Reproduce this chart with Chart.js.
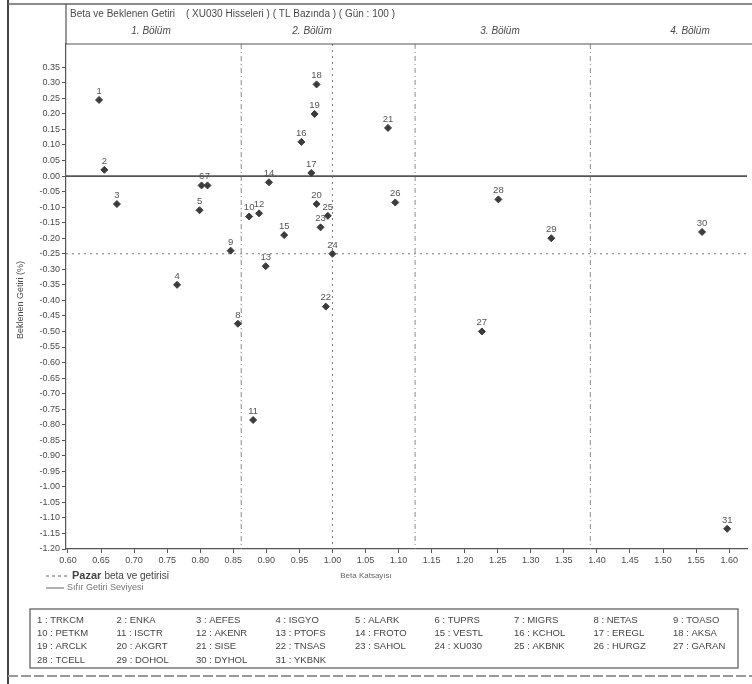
<!DOCTYPE html>
<html>
<head>
<meta charset="utf-8">
<script src="https://cdn.jsdelivr.net/npm/chart.js@4.4.1/dist/chart.umd.min.js"></script>
<style>
  html, body { margin: 0; padding: 0; background: #fff; overflow: hidden; }
  #wrap { width: 752px; height: 684px; position: relative; }
</style>
</head>
<body>
<div id="wrap"><canvas id="betaChart" width="752" height="684"></canvas></div>
<script>
// hisse numaralari, beta ve getiri degerleri
const stockNo = [1, 2, 3, 4, 5, 6, 7, 8, 9, 10, 11, 12, 13, 14, 15, 16, 17, 18, 19, 20, 21, 22, 23, 24, 25, 26, 27, 28, 29, 30, 31];
const betas = [0.647, 0.655, 0.674, 0.765, 0.799, 0.802, 0.811, 0.857, 0.846, 0.874, 0.880, 0.889, 0.899, 0.904, 0.927,
               0.953, 0.968, 0.976, 0.973, 0.976, 1.084, 0.990, 0.982, 1.000, 0.993, 1.095, 1.226, 1.251, 1.331, 1.559, 1.597];
const returns = [0.245, 0.02, -0.09, -0.35, -0.11, -0.03, -0.03, -0.475, -0.24, -0.13, -0.785, -0.12, -0.29, -0.02, -0.19,
                 0.11, 0.01, 0.295, 0.20, -0.09, 0.155, -0.42, -0.165, -0.25, -0.128, -0.085, -0.50, -0.075, -0.20, -0.18, -1.135];
const tickers = ["TRKCM", "ENKA", "AEFES", "ISGYO", "ALARK", "TUPRS", "MIGRS", "NETAS", "TOASO",
                 "PETKM", "ISCTR", "AKENR", "PTOFS", "FROTO", "VESTL", "KCHOL", "EREGL", "AKSA",
                 "ARCLK", "AKGRT", "SISE", "TNSAS", "SAHOL", "XU030", "AKBNK", "HURGZ", "GARAN",
                 "TCELL", "DOHOL", "DYHOL", "YKBNK"];

const xTicks = [0.60, 0.65, 0.70, 0.75, 0.80, 0.85, 0.90, 0.95, 1.00, 1.05, 1.10, 1.15, 1.20, 1.25, 1.30, 1.35, 1.40, 1.45, 1.50, 1.55, 1.60];
const yTicks = [0.35, 0.30, 0.25, 0.20, 0.15, 0.10, 0.05, 0.00, -0.05, -0.10, -0.15, -0.20, -0.25, -0.30, -0.35, -0.40,
                -0.45, -0.50, -0.55, -0.60, -0.65, -0.70, -0.75, -0.80, -0.85, -0.90, -0.95, -1.00, -1.05, -1.10, -1.15, -1.20];

const marketBeta = 1.00;
const marketReturn = -0.25;
const zeroReturn = 0;
const sectionBounds = [0.862, 1.125, 1.39];
const sectionNames = ["1. Bölüm", "2. Bölüm", "3. Bölüm", "4. Bölüm"];

const xMin = 0.597, xMax = 1.627;
const yMin = -1.2, yMax = 0.425;

const FONT = "'Liberation Sans', Arial, sans-serif";
const TXT = '#4a4a4a';

const points = betas.map((b, i) => ({ x: b, y: returns[i] }));

function vline(x, color, dash) {
  return {
    data: [{ x: x, y: yMax }, { x: x, y: yMin }],
    showLine: true, borderColor: color, borderWidth: 1, borderDash: dash,
    pointRadius: 0, pointHoverRadius: 0
  };
}
function hline(y, color, dash, w) {
  return {
    data: [{ x: xMin, y: y }, { x: xMax, y: y }],
    showLine: true, borderColor: color, borderWidth: w || 1, borderDash: dash,
    pointRadius: 0, pointHoverRadius: 0
  };
}

const datasets = [{
  label: 'Hisseler',
  data: points,
  pointStyle: 'rectRot',
  pointRadius: 3.5,
  backgroundColor: '#3c3c3c',
  borderColor: '#3c3c3c',
  borderWidth: 1
},
  hline(zeroReturn, '#555', [], 1.6),
  hline(marketReturn, '#777', [2, 4]),
  vline(marketBeta, '#777', [2, 4])
];
sectionBounds.forEach(b => datasets.push(vline(b, '#8a8a8a', [5, 3, 1, 3])));

const decorations = {
  id: 'decorations',
  afterDatasetsDraw(chart) {
    const ctx = chart.ctx;
    const area = chart.chartArea;
    ctx.save();

    // nokta numaralari
    const meta = chart.getDatasetMeta(0);
    ctx.fillStyle = '#555';
    ctx.font = '9.5px ' + FONT;
    ctx.textAlign = 'center';
    ctx.textBaseline = 'bottom';
    meta.data.forEach((el, i) => {
      ctx.fillText(String(stockNo[i]), el.x, el.y - 4);
    });

    // dis cerceve
    ctx.strokeStyle = '#444';
    ctx.lineWidth = 2;
    ctx.beginPath();
    ctx.moveTo(8, 0); ctx.lineTo(8, 684);
    ctx.stroke();
    ctx.lineWidth = 1.5;
    ctx.strokeStyle = '#666';
    ctx.beginPath();
    ctx.moveTo(8, 4); ctx.lineTo(752, 4);
    ctx.stroke();
    ctx.strokeStyle = '#999';
    ctx.lineWidth = 2;
    ctx.setLineDash([10, 3]);
    ctx.beginPath();
    ctx.moveTo(8, 676); ctx.lineTo(752, 676);
    ctx.stroke();
    ctx.setLineDash([]);

    // baslik kutusu
    ctx.strokeStyle = '#555';
    ctx.lineWidth = 1.2;
    ctx.beginPath();
    ctx.moveTo(area.left, 4); ctx.lineTo(area.left, area.top);
    ctx.lineTo(752, area.top);
    ctx.stroke();

    ctx.fillStyle = TXT;
    ctx.textAlign = 'left';
    ctx.textBaseline = 'middle';
    ctx.font = '10px ' + FONT;
    ctx.fillText('Beta ve Beklenen Getiri', 70, 14);
    ctx.fillText('( XU030 Hisseleri ) ( TL Bazında ) ( Gün : 100 )', 186, 14);

    ctx.font = 'italic 10px ' + FONT;
    ctx.textAlign = 'center';
    const nameX = [151, 312, 500, 690];
    sectionNames.forEach((name, i) => ctx.fillText(name, nameX[i], 31));

    // eksen basliklari
    ctx.save();
    ctx.translate(21, 300);
    ctx.rotate(-Math.PI / 2);
    ctx.font = '9px ' + FONT;
    ctx.fillText('Beklenen Getiri (%)', 0, 0);
    ctx.restore();

    ctx.font = '8px ' + FONT;
    ctx.fillStyle = '#666';
    ctx.fillText('Beta Katsayısı', 366, 576);

    // alt aciklama
    ctx.strokeStyle = '#666';
    ctx.lineWidth = 1;
    ctx.setLineDash([3, 3]);
    ctx.beginPath(); ctx.moveTo(46, 576); ctx.lineTo(68, 576); ctx.stroke();
    ctx.setLineDash([]);
    ctx.beginPath(); ctx.moveTo(46, 588); ctx.lineTo(64, 588); ctx.stroke();
    ctx.textAlign = 'left';
    ctx.fillStyle = '#444';
    ctx.font = 'bold 11px ' + FONT;
    ctx.fillText('Pazar', 72, 576);
    const pw = ctx.measureText('Pazar ').width;
    ctx.font = '10px ' + FONT;
    ctx.fillText('beta ve getirisi', 72 + pw, 576);
    ctx.fillStyle = '#777';
    ctx.font = '9px ' + FONT;
    ctx.fillText('Sıfır Getiri Seviyesi', 67, 588);

    // hisse tablosu
    ctx.strokeStyle = '#555';
    ctx.lineWidth = 1.2;
    ctx.strokeRect(30, 609, 708, 59);
    ctx.fillStyle = '#444';
    ctx.font = '9.5px ' + FONT;
    stockNo.forEach((n, i) => {
      const col = i % 9, row = Math.floor(i / 9);
      ctx.fillText(n + ' : ' + tickers[i], 37 + col * 79.5, 620 + row * 13.3);
    });

    ctx.restore();
  }
};

new Chart(document.getElementById('betaChart'), {
  type: 'scatter',
  data: { datasets: datasets },
  options: {
    responsive: false,
    animation: false,
    devicePixelRatio: 1,
    layout: { padding: { left: 8, top: 44, right: 0, bottom: 105 } },
    plugins: { legend: { display: false }, tooltip: { enabled: false } },
    scales: {
      x: {
        type: 'linear', min: xMin, max: xMax,
        afterBuildTicks: s => { s.ticks = xTicks.map(v => ({ value: v })); },
        afterFit: s => { s.height = 30; s.paddingRight = 0; s.paddingLeft = 0; },
        border: { color: '#555', width: 1.2 },
        grid: { drawOnChartArea: false, tickLength: 4, color: '#555' },
        ticks: { color: TXT, font: { size: 9, family: FONT }, padding: 2, maxRotation: 0, autoSkip: false,
                 callback: v => Number(v).toFixed(2) }
      },
      y: {
        type: 'linear', min: yMin, max: yMax,
        afterBuildTicks: s => { s.ticks = yTicks.map(v => ({ value: v })); },
        afterFit: s => { s.width = 58; s.paddingTop = 0; s.paddingBottom = 0; },
        border: { color: '#555', width: 1.2 },
        grid: { drawOnChartArea: false, tickLength: 4, color: '#555' },
        ticks: { color: TXT, font: { size: 9, family: FONT }, padding: 2, autoSkip: false,
                 callback: v => Number(v).toFixed(2) }
      }
    }
  },
  plugins: [decorations]
});
</script>
</body>
</html>
